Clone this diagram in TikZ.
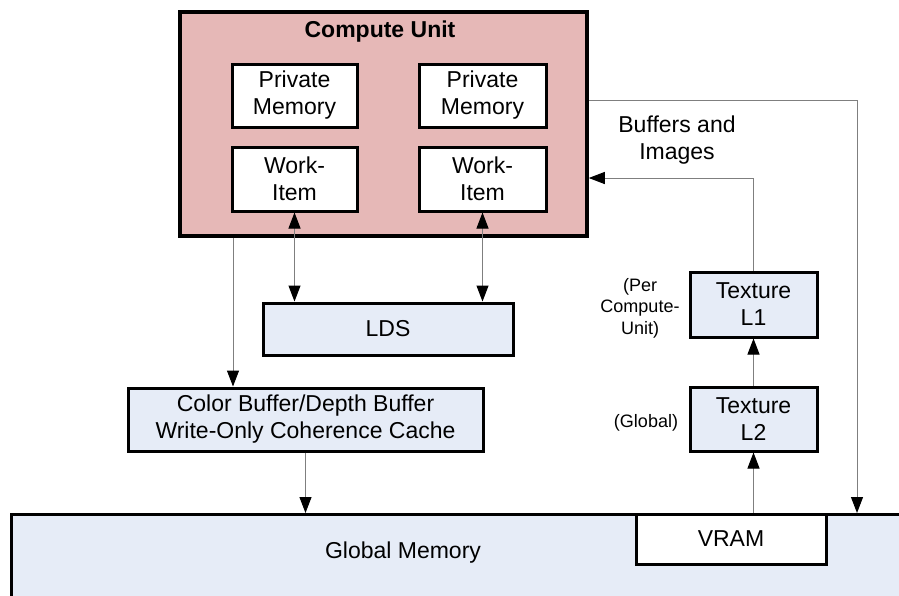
\documentclass[tikz,border=0pt]{standalone}
\usepackage{fontspec}
\setmainfont{Liberation Sans}
\usetikzlibrary{arrows.meta}
\definecolor{cupink}{HTML}{E6B8B7}
\definecolor{memblue}{HTML}{E6ECF7}
\definecolor{lngray}{HTML}{7F7F7F}
\tikzset{
  box/.style={draw=black, line width=3pt, fill=white, align=center, inner sep=0pt,
    font=\fontsize{23}{27}\selectfont},
  bluebox/.style={box, fill=memblue},
  conn/.style={draw=lngray, line width=1pt},
  tipa/.style={-{Triangle[length=16pt,width=12pt,color=black]}},
  tipb/.style={{Triangle[length=16pt,width=12pt,color=black]}-{Triangle[length=16pt,width=12pt,color=black]}},
  lbl/.style={align=center, inner sep=0pt, font=\fontsize{23}{27}\selectfont},
  smalllbl/.style={align=center, inner sep=0pt, font=\fontsize{18}{21.5}\selectfont},
}
\begin{document}
\begin{tikzpicture}[x=1pt,y=-1pt]
\useasboundingbox (0,0) rectangle (899,595);
\clip (0,0) rectangle (899,595);
\fill[white] (0,0) rectangle (899,595);

% Compute unit
\node[box, fill=cupink, line width=3.5pt, minimum width=407pt, minimum height=224pt] (cu) at (383.5,124) {};
\node[lbl, font=\fontsize{23}{27}\selectfont\bfseries] (cutitle) at (380,32) {Compute Unit};
\node[box, minimum width=125pt, minimum height=63pt] (pml) at (294.5,95.5) {Private\\Memory};
\node[box, minimum width=127pt, minimum height=63pt] (pmr) at (482.5,95.5) {Private\\Memory};
\node[box, minimum width=125pt, minimum height=64pt] (wil) at (294.5,179) {Work-\\Item};
\node[box, minimum width=127pt, minimum height=64pt] (wir) at (482.5,179) {Work-\\Item};

% LDS
\node[bluebox, minimum width=250pt, minimum height=52pt] (lds) at (388,329) {LDS};

% Color buffer
\node[bluebox, minimum width=355pt, minimum height=63pt] (cb) at (305.5,419.5) {Color Buffer/Depth Buffer\\Write-Only Coherence Cache};

% Textures
\node[bluebox, minimum width=127pt, minimum height=65pt] (t1) at (753.5,304.5) {Texture\\L1};
\node[bluebox, minimum width=127pt, minimum height=64pt] (t2) at (753.5,419) {Texture\\L2};

% Global memory
\node[bluebox, minimum width=920pt, minimum height=120pt, anchor=north west] (gm) at (10,513) {};
\node[lbl] (gmlbl) at (403,553) {Global Memory};
\node[box, minimum width=190pt, minimum height=50pt] (vram) at (731,539) {VRAM};

% Labels
\node[lbl] (bi) at (677,140) {Buffers and\\Images};
\node[smalllbl] (per) at (640,308) {(Per\\Compute-\\Unit)};
\node[smalllbl] (glob) at (646,423) {(Global)};

% helper coordinates
\coordinate (cbx) at (233,0);
\coordinate (biy) at (0,178);
\coordinate (outy) at (0,100);
\coordinate (rx) at (857,0);

% Connectors
\draw[conn, tipb] (wil.south) -- (wil.south |- lds.north);
\draw[conn, tipb] (wir.south) -- (wir.south |- lds.north);
\draw[conn, tipa] (cu.south -| cbx) -- (cb.north -| cbx);
\draw[conn, tipa] (cb.south) -- (cb.south |- gm.north);
\draw[conn, tipa] (t2.south |- vram.north) -- (t2.south);
\draw[conn, tipa] (t2.north) -- (t1.south);
\draw[conn, tipa] (t1.north) |- (cu.east |- biy);
\draw[conn, tipa] (cu.east |- outy) -| (rx |- gm.north);
\end{tikzpicture}
\end{document}
